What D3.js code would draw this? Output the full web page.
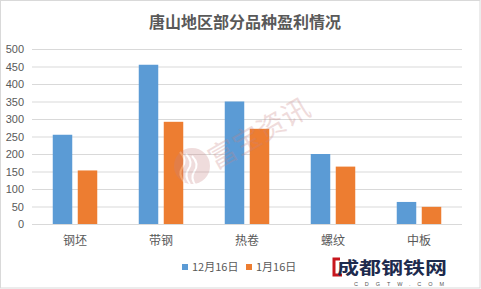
<!DOCTYPE html>
<html><head><meta charset="utf-8">
<script src="https://cdn.jsdelivr.net/npm/d3@7"></script>
<style>body{margin:0;background:#fff}svg{display:block}</style>
</head><body>
<script>
const categories = ["钢坯","带钢","热卷","螺纹","中板"];
const seriesNames = ["12月16日","1月16日"];
const dec16 = [255, 455, 350, 200, 63];
const jan16 = [153, 292, 272, 164, 49];
const yTicks = [0,50,100,150,200,250,300,350,400,450,500];
const colors = ["#5b9bd5","#ed7d31"];

const W=481,H=289;
const svg=d3.select("body").append("svg").attr("width",W).attr("height",H);
svg.append("rect").attr("x",0.5).attr("y",0.5).attr("width",W-1.5).attr("height",H-1.5)
  .attr("fill","#fff").attr("stroke","#d9d9d9");
const font="'Liberation Sans','Noto Sans CJK SC',sans-serif";
const cjk="'Noto Sans CJK SC',sans-serif";

svg.append("text").attr("x",245).attr("y",28).attr("text-anchor","middle")
  .attr("font-family",cjk).attr("font-weight","bold").attr("font-size",16)
  .attr("fill","#595959").text("唐山地区部分品种盈利情况");

const x=d3.scaleBand().domain(categories).range([32,462]);
const y=d3.scaleLinear().domain([0,500]).range([224,49]);

const g=svg.append("g");
g.selectAll(".grid").data(yTicks).join("line")
  .attr("x1",32).attr("x2",462).attr("y1",d=>y(d)+0.5).attr("y2",d=>y(d)+0.5)
  .attr("stroke","#d9d9d9").attr("stroke-width",1);
g.selectAll(".yl").data(yTicks).join("text")
  .attr("x",24).attr("y",d=>y(d)+4).attr("text-anchor","end")
  .attr("font-family",font).attr("font-size",11).attr("fill","#595959").text(d=>d);

// watermark
const wm=svg.append("g").attr("opacity",0.28);
wm.append("circle").attr("cx",192).attr("cy",166).attr("r",18).attr("fill","#c98383");
[[-8,0],[-2,1],[4,2]].forEach(([dx,i])=>{
  wm.append("path").attr("d",`M${188+dx},${152+i*2} q8,8 2,16 q-4,6 2,14`)
    .attr("fill","none").attr("stroke","#fff").attr("stroke-width",2);
});
wm.append("text").attr("transform","translate(264,142) rotate(-30)")
  .attr("text-anchor","middle").attr("font-family",cjk).attr("font-size",28)
  .attr("fill","#c98383").text("富宝资讯");

const bw=19.5, off=12.5;
const data=categories.map((c,i)=>({c,v:[dec16[i],jan16[i]]}));
data.forEach(d=>{
  d.v.forEach((v,j)=>{
    const cx=x(d.c)+x.bandwidth()/2+(j===0?-off:off);
    g.append("rect").attr("x",cx-bw/2).attr("width",bw)
      .attr("y",y(v)).attr("height",y(0)-y(v)).attr("fill",colors[j]);
  });
});
g.selectAll(".xl").data(categories).join("text")
  .attr("x",d=>x(d)+x.bandwidth()/2).attr("y",245).attr("text-anchor","middle")
  .attr("font-family",cjk).attr("font-size",12).attr("fill","#595959").text(d=>d);

// legend
const lg=svg.append("g");
const lx=[182,246];
seriesNames.forEach((n,i)=>{
  lg.append("rect").attr("x",lx[i]).attr("y",264).attr("width",6).attr("height",6).attr("fill",colors[i]);
  lg.append("text").attr("x",lx[i]+10).attr("y",271).attr("font-family",cjk)
    .attr("font-size",11).attr("fill","#595959").text(n);
});

// logo
const lo=svg.append("g");
lo.append("path").attr("d","M340,259 h-6 v16 h8").attr("fill","none").attr("stroke","#c8161d").attr("stroke-width",3);
lo.append("text").attr("x",337).attr("y",274).attr("font-family",cjk).attr("font-weight","bold")
  .attr("font-size",17).attr("fill","#1d2a4d").attr("textLength",110).attr("lengthAdjust","spacingAndGlyphs").text("成都钢铁网");
lo.append("text").attr("x",354).attr("y",286).attr("font-family",font)
  .attr("font-size",5.5).attr("fill","#555").attr("textLength",90).text("CDGTW.COM");
</script>
</body></html>
